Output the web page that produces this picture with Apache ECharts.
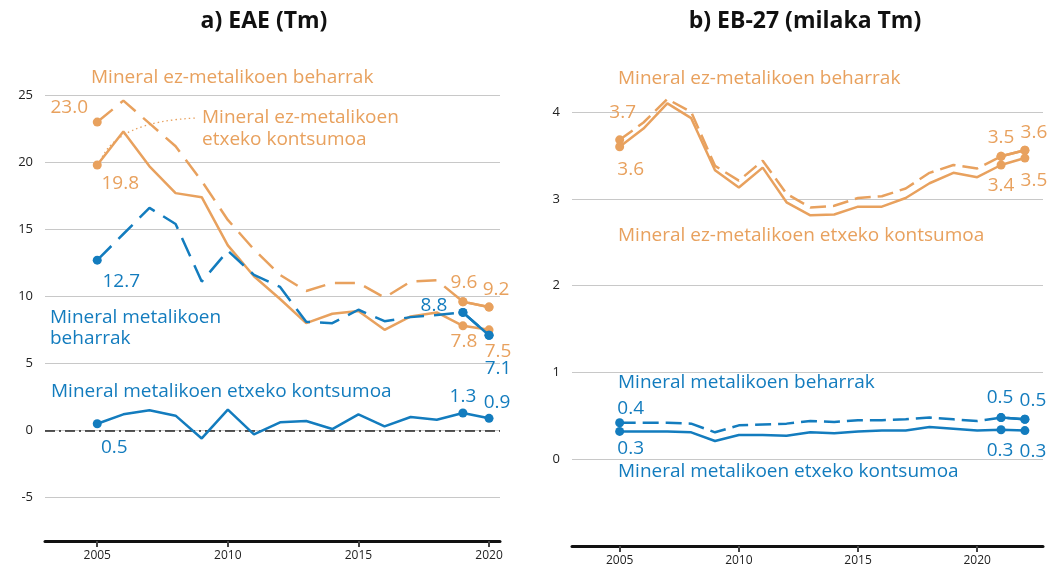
<!DOCTYPE html>
<html>
<head>
<meta charset="utf-8">
<script src="https://cdn.jsdelivr.net/npm/echarts@6/dist/echarts.min.js"></script>
<style>
html,body{margin:0;padding:0;background:#fff;}
#c{width:1064px;height:570px;}
</style>
</head>
<body>
<div id="c"></div>
<script>
// ---- data ----
const yearsA = [2005,2006,2007,2008,2009,2010,2011,2012,2013,2014,2015,2016,2017,2018,2019,2020];
const eaeNonMetalReq = [23.0,24.6,22.9,21.2,18.6,15.7,13.5,11.6,10.4,11.0,11.0,9.9,11.1,11.2,9.6,9.2];
const eaeNonMetalDmc = [19.8,22.3,19.7,17.7,17.4,13.8,11.5,9.8,8.0,8.7,8.9,7.5,8.5,8.8,7.8,7.5];
const eaeMetalReq    = [12.7,14.65,16.6,15.4,11.1,13.4,11.6,10.7,8.1,8.0,9.0,8.15,8.45,8.6,8.8,7.1];
const eaeMetalDmc    = [0.5,1.2,1.5,1.1,-0.6,1.55,-0.3,0.6,0.7,0.1,1.2,0.3,1.0,0.8,1.3,0.9];

const yearsB = [2005,2006,2007,2008,2009,2010,2011,2012,2013,2014,2015,2016,2017,2018,2019,2020,2021,2022];
const ebNonMetalReq = [3.68,3.88,4.15,4.0,3.38,3.21,3.44,3.06,2.9,2.92,3.01,3.03,3.12,3.3,3.39,3.35,3.49,3.56];
const ebNonMetalDmc = [3.6,3.81,4.1,3.93,3.33,3.13,3.36,2.96,2.81,2.82,2.91,2.91,3.01,3.18,3.3,3.25,3.39,3.47];
const ebMetalReq    = [0.42,0.42,0.42,0.41,0.31,0.39,0.40,0.41,0.44,0.43,0.45,0.45,0.46,0.48,0.46,0.44,0.48,0.46];
const ebMetalDmc    = [0.32,0.32,0.32,0.31,0.21,0.28,0.28,0.27,0.31,0.30,0.32,0.33,0.33,0.37,0.35,0.33,0.34,0.33];

const xTicksA = [2005,2010,2015,2020];
const xTicksB = [2005,2010,2015,2020];
const yTicksA = [-5,0,5,10,15,20,25];
const yTicksB = [0,1,2,3,4];

const titleA = 'a) EAE (Tm)';
const titleB = 'b) EB-27 (milaka Tm)';
const nameNonMetalReq = 'Mineral ez-metalikoen beharrak';
const nameNonMetalDmc = 'Mineral ez-metalikoen etxeko kontsumoa';
const nameMetalReq = 'Mineral metalikoen beharrak';
const nameMetalDmc = 'Mineral metalikoen etxeko kontsumoa';

// ---- styling ----
const ORANGE = '#E8A15E';
const BLUE = '#137CBE';
const FONT = 'Open Sans';
const TSIZE = 19;

function pts(years, vals){ return years.map((y,i)=>[y, vals[i]]); }

function lineSeries(opts){
  const {years, vals, color, dashed, dots, labels, xi, yi, dash} = opts;
  const data = years.map((y,i)=>{
    const item = {value:[y, vals[i]]};
    if (dots.includes(i)) { item.symbol = 'circle'; item.symbolSize = 9; }
    else { item.symbol = 'none'; }
    if (labels && labels[i]) {
      item.label = {show:true, position:'inside', offset: labels[i],
        formatter: p => p.value[1].toFixed(1), color: color, fontSize: TSIZE, fontFamily: FONT};
    }
    return item;
  });
  return {
    type:'line', xAxisIndex:xi, yAxisIndex:yi, data,
    symbol:'circle', showAllSymbol:true, animation:false,
    lineStyle:{color, width:2.5, type: dashed ? dash : 'solid', cap:'butt'},
    itemStyle:{color},
    label:{show:false},
    z: 3
  };
}
function tailSeries(years, vals, n, color, xi, yi){
  const d = pts(years.slice(-n), vals.slice(-n));
  return {type:'line', xAxisIndex:xi, yAxisIndex:yi, data:d, symbol:'circle', symbolSize:9,
    lineStyle:{color, width:2.5}, itemStyle:{color}, animation:false, z:4};
}

const n = yearsA.length;
const m = yearsB.length;
const dashA = [20, 10];
const dashB = [16, 7];

const series = [
  lineSeries({years:yearsA, vals:eaeNonMetalReq, color:ORANGE, dashed:true, dash:dashA, xi:0, yi:0,
    dots:[0,n-2,n-1], labels:{0:[-28,-14], [n-2]:[1,-19], [n-1]:[7,-17]}}),
  tailSeries(yearsA, eaeNonMetalReq, 2, ORANGE, 0, 0),
  lineSeries({years:yearsA, vals:eaeNonMetalDmc, color:ORANGE, dashed:false, xi:0, yi:0,
    dots:[0,n-2,n-1], labels:{0:[23,19], [n-2]:[1,16], [n-1]:[9,22]}}),
  lineSeries({years:yearsA, vals:eaeMetalReq, color:BLUE, dashed:true, dash:dashA, xi:0, yi:0,
    dots:[0,n-2,n-1], labels:{0:[24,21], [n-2]:[-29,-7], [n-1]:[9,33]}}),
  tailSeries(yearsA, eaeMetalReq, 2, BLUE, 0, 0),
  Object.assign(lineSeries({years:yearsA, vals:eaeMetalDmc, color:BLUE, dashed:false, xi:0, yi:0,
    dots:[0,n-2,n-1], labels:{0:[17,24], [n-2]:[0,-16], [n-1]:[8,-16]}}), {
    markLine:{silent:true, symbol:'none', animation:false, label:{show:false}, z:2,
      lineStyle:{color:'#222', type:[10,4,2,4], width:1.5},
      data:[{yAxis:0}]}
  }),
  lineSeries({years:yearsB, vals:ebNonMetalReq, color:ORANGE, dashed:true, dash:dashB, xi:1, yi:1,
    dots:[0,m-2,m-1], labels:{0:[3,-27], [m-2]:[0,-19], [m-1]:[9,-18]}}),
  tailSeries(yearsB, ebNonMetalReq, 2, ORANGE, 1, 1),
  lineSeries({years:yearsB, vals:ebNonMetalDmc, color:ORANGE, dashed:false, xi:1, yi:1,
    dots:[0,m-2,m-1], labels:{0:[11,23], [m-2]:[0,21], [m-1]:[9,23]}}),
  lineSeries({years:yearsB, vals:ebMetalReq, color:BLUE, dashed:true, dash:dashB, xi:1, yi:1,
    dots:[0,m-2,m-1], labels:{0:[11,-14], [m-2]:[-1,-20], [m-1]:[8,-19]}}),
  tailSeries(yearsB, ebMetalReq, 2, BLUE, 1, 1),
  lineSeries({years:yearsB, vals:ebMetalDmc, color:BLUE, dashed:false, xi:1, yi:1,
    dots:[0,m-2,m-1], labels:{0:[11,17], [m-2]:[-1,21], [m-1]:[8,21]}})
];

function xAxis(grid, min, max, ticks){
  return {type:'value', gridIndex:grid, min, max,
    axisLine:{show:true, onZero:false, lineStyle:{color:'#111', width:3}},
    axisTick:{show:true, customValues:ticks, length:6, lineStyle:{color:'#444', width:2}},
    axisLabel:{customValues:ticks, color:'#222', fontSize:12, fontFamily:FONT, margin:9,
      formatter: v => String(v)},
    splitLine:{show:false}};
}
function yAxis(grid, min, max, ticks){
  return {type:'value', gridIndex:grid, min, max,
    axisLine:{show:false}, axisTick:{show:false, customValues:ticks},
    axisLabel:{customValues:ticks, color:'#222', fontSize:13, fontFamily:FONT, margin:12},
    splitLine:{show:true, lineStyle:{color:'#c8c8c8', width:1}}};
}

function txt(text, x, y, color){
  return {type:'text', x, y, silent:true, z:10,
    style:{text, fill:color, fontSize:TSIZE, fontFamily:FONT,
      verticalAlign:'middle', align:'left'}};
}
function ctxt(text, x, y){
  return {type:'text', x, y, silent:true,
    style:{text, fill:'#111', fontSize:23, fontFamily:FONT, fontWeight:'bold',
      verticalAlign:'middle', align:'center'}};
}

const chart = echarts.init(document.getElementById('c'), null, {renderer:'canvas'});
const graphics = [
  ctxt(titleA, 264, 21),
  ctxt(titleB, 805, 21),
  txt(nameNonMetalReq, 91, 78, ORANGE),
  txt('Mineral ez-metalikoen', 202, 118, ORANGE),
  txt('etxeko kontsumoa', 202, 140, ORANGE),
  txt('Mineral metalikoen', 50, 318, BLUE),
  txt('beharrak', 50, 339, BLUE),
  txt(nameMetalDmc, 51, 392, BLUE),
  txt(nameNonMetalReq, 618, 79, ORANGE),
  txt(nameNonMetalDmc, 618, 236, ORANGE),
  txt(nameMetalReq, 618, 383, BLUE),
  txt(nameMetalDmc, 618, 472, BLUE)
];
chart.setOption({
  backgroundColor:'#fff',
  animation:false,
  textStyle:{fontFamily:FONT},
  grid:[
    {left:45, right:564, top:60, bottom:29},
    {left:572, right:21, top:60, bottom:24}
  ],
  xAxis:[xAxis(0, 2003, 2020.42, xTicksA), xAxis(1, 2003, 2022.76, xTicksB)],
  yAxis:[yAxis(0, -8.25, 27.63, yTicksA), yAxis(1, -1, 4.6, yTicksB)],
  graphic: graphics,
  series
});
// dotted leader curve from the 2005 point of the EAE domestic consumption line to its label
const p0 = chart.convertToPixel({gridIndex:0}, [yearsA[0], eaeNonMetalDmc[0]]);
const p1 = [198, 118];
graphics.push({type:'bezierCurve', silent:true, z:2,
  shape:{x1:p0[0]+3, y1:p0[1]-4, x2:p1[0], y2:p1[1], cpx1:p0[0]+14, cpy1:p0[1]-30, cpx2:p0[0]+45, cpy2:p1[1]+2},
  style:{stroke:ORANGE, lineWidth:1.3, lineDash:[1.5,3], fill:null}});
chart.setOption({graphic: graphics});
</script>
</body>
</html>
